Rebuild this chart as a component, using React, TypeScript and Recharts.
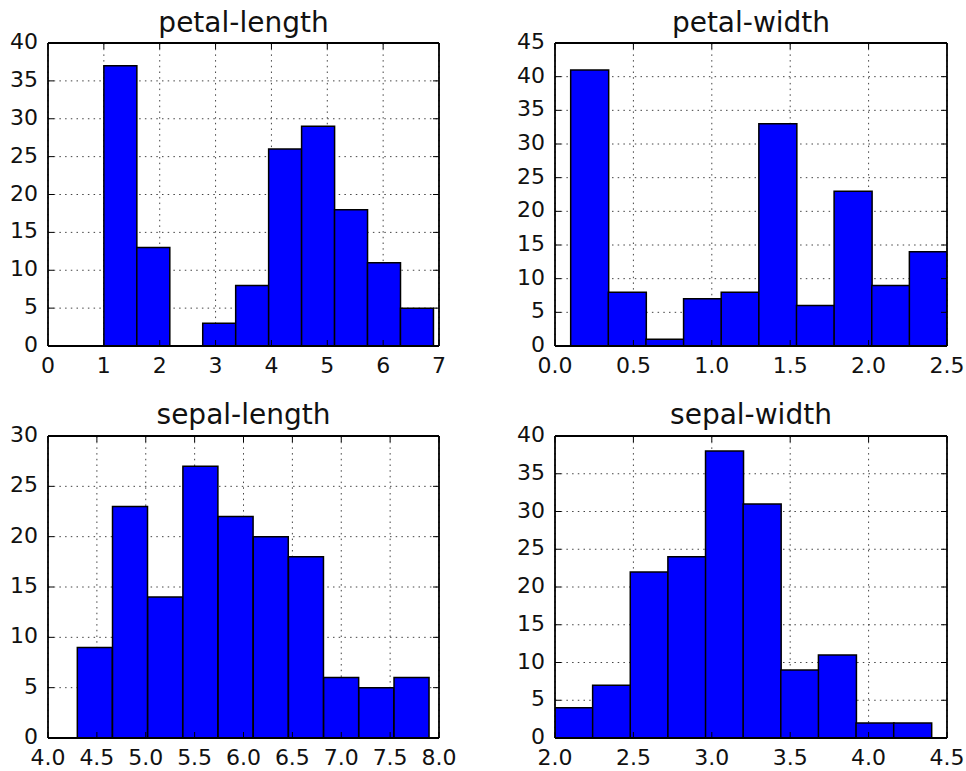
import React from 'react';
import { ComposedChart, Bar, XAxis, YAxis, CartesianGrid } from 'recharts';

// ---- data ----
const petalLengthEdges = [1.0, 1.59, 2.18, 2.77, 3.36, 3.95, 4.54, 5.13, 5.72, 6.31, 6.9];
const petalLengthCounts = [37, 13, 0, 3, 8, 26, 29, 18, 11, 5];
const petalLengthXTicks = [0, 1, 2, 3, 4, 5, 6, 7];
const petalLengthYTicks = [0, 5, 10, 15, 20, 25, 30, 35, 40];

const petalWidthEdges = [0.1, 0.34, 0.58, 0.82, 1.06, 1.3, 1.54, 1.78, 2.02, 2.26, 2.5];
const petalWidthCounts = [41, 8, 1, 7, 8, 33, 6, 23, 9, 14];
const petalWidthXTicks = [0.0, 0.5, 1.0, 1.5, 2.0, 2.5];
const petalWidthYTicks = [0, 5, 10, 15, 20, 25, 30, 35, 40, 45];

const sepalLengthEdges = [4.3, 4.66, 5.02, 5.38, 5.74, 6.1, 6.46, 6.82, 7.18, 7.54, 7.9];
const sepalLengthCounts = [9, 23, 14, 27, 22, 20, 18, 6, 5, 6];
const sepalLengthXTicks = [4.0, 4.5, 5.0, 5.5, 6.0, 6.5, 7.0, 7.5, 8.0];
const sepalLengthYTicks = [0, 5, 10, 15, 20, 25, 30];

const sepalWidthEdges = [2.0, 2.24, 2.48, 2.72, 2.96, 3.2, 3.44, 3.68, 3.92, 4.16, 4.4];
const sepalWidthCounts = [4, 7, 22, 24, 38, 31, 9, 11, 2, 2];
const sepalWidthXTicks = [2.0, 2.5, 3.0, 3.5, 4.0, 4.5];
const sepalWidthYTicks = [0, 5, 10, 15, 20, 25, 30, 35, 40];

const FONT = '"DejaVu Sans", sans-serif';
const TICK_FS = 22;
const TICK_LEN = 6;
const XAXIS_H = 30;
const YAXIS_W = 40;

function buildData(edges: number[], counts: number[]) {
  return counts.map((c, i) => ({ x: (edges[i] + edges[i + 1]) / 2, count: c }));
}

const BottomTick = (fmt: (v: number) => string) => (props: any) => {
  const { x, y, payload } = props;
  return (
    <g>
      <line x1={x} y1={y} x2={x} y2={y - TICK_LEN} stroke="#000" strokeWidth={1} />
      <text x={x} y={y + 27} textAnchor="middle" fontSize={TICK_FS} fontFamily={FONT} fill="#111">
        {fmt(payload.value)}
      </text>
    </g>
  );
};
const TopTick = (props: any) => {
  const { x, y } = props;
  return <line x1={x} y1={y} x2={x} y2={y + TICK_LEN} stroke="#000" strokeWidth={1} />;
};
const LeftTick = (props: any) => {
  const { x, y, payload } = props;
  return (
    <g>
      <line x1={x} y1={y} x2={x + TICK_LEN} y2={y} stroke="#000" strokeWidth={1} />
      <text x={x - 10} y={y + 6} textAnchor="end" fontSize={TICK_FS} fontFamily={FONT} fill="#111">
        {String(payload.value)}
      </text>
    </g>
  );
};
const RightTick = (props: any) => {
  const { x, y } = props;
  return <line x1={x} y1={y} x2={x - TICK_LEN} y2={y} stroke="#000" strokeWidth={1} />;
};

type PanelProps = {
  left: number; top: number; width: number; height: number;
  pl: number; pt: number; pr: number; pb: number;
  title: string; titleTop: number;
  edges: number[]; counts: number[];
  xTicks: number[]; yTicks: number[];
  fmt: (v: number) => string;
};

function Panel(p: PanelProps) {
  const data = buildData(p.edges, p.counts);
  const xDomain = [p.xTicks[0], p.xTicks[p.xTicks.length - 1]];
  const yDomain = [p.yTicks[0], p.yTicks[p.yTicks.length - 1]];
  const axisLine = { stroke: '#000', strokeWidth: 1.8 };
  return (
    <div style={{ position: 'absolute', left: p.left, top: p.top, width: p.width, height: p.height }}>
      <div
        style={{
          position: 'absolute', left: p.pl, top: p.titleTop, width: p.width - p.pl - p.pr,
          textAlign: 'center', fontFamily: FONT, fontSize: 28, lineHeight: '32px', color: '#111', whiteSpace: 'nowrap',
        }}
      >
        {p.title}
      </div>
      <ComposedChart
        width={p.width}
        height={p.height}
        data={data}
        margin={{ left: p.pl - YAXIS_W, top: p.pt - 1, right: p.pr - 1, bottom: p.pb - XAXIS_H }}
        barCategoryGap={0}
        barGap={0}
        style={{ overflow: 'visible' }}
      >
        <CartesianGrid stroke="#444" strokeWidth={1} strokeDasharray="1.5 4.2" />
        <Bar dataKey="count" fill="#0000ff" stroke="#000" strokeWidth={1.5} isAnimationActive={false} />
        <XAxis
          dataKey="x" type="number" domain={xDomain} ticks={p.xTicks} allowDataOverflow
          height={XAXIS_H} tickSize={0} tickMargin={0} tickLine={false}
          axisLine={axisLine} tick={BottomTick(p.fmt)} interval={0}
        />
        <XAxis
          xAxisId="top" orientation="top" dataKey="x" type="number" domain={xDomain} ticks={p.xTicks} allowDataOverflow
          height={1} tickSize={0} tickMargin={0} tickLine={false}
          axisLine={axisLine} tick={TopTick} interval={0}
        />
        <YAxis
          type="number" domain={yDomain} ticks={p.yTicks} allowDataOverflow
          width={YAXIS_W} tickSize={0} tickMargin={0} tickLine={false}
          axisLine={axisLine} tick={LeftTick} interval={0}
        />
        <YAxis
          yAxisId="right" orientation="right" type="number" domain={yDomain} ticks={p.yTicks} allowDataOverflow
          width={1} tickSize={0} tickMargin={0} tickLine={false}
          axisLine={axisLine} tick={RightTick} interval={0}
        />
      </ComposedChart>
    </div>
  );
}

const fmtInt = (v: number) => String(v);
const fmt1 = (v: number) => v.toFixed(1);

export default function App() {
  return (
    <div style={{ position: 'absolute', left: 0, top: 0, width: 966, height: 771, background: '#fff' }}>
      <Panel left={0} top={0} width={480} height={390} pl={48} pt={43} pr={41} pb={44}
        title="petal-length" titleTop={7} edges={petalLengthEdges} counts={petalLengthCounts}
        xTicks={petalLengthXTicks} yTicks={petalLengthYTicks} fmt={fmtInt} />
      <Panel left={480} top={0} width={486} height={390} pl={75} pt={43} pr={19} pb={44}
        title="petal-width" titleTop={7} edges={petalWidthEdges} counts={petalWidthCounts}
        xTicks={petalWidthXTicks} yTicks={petalWidthYTicks} fmt={fmt1} />
      <Panel left={0} top={390} width={480} height={381} pl={48} pt={46} pr={41} pb={33}
        title="sepal-length" titleTop={9} edges={sepalLengthEdges} counts={sepalLengthCounts}
        xTicks={sepalLengthXTicks} yTicks={sepalLengthYTicks} fmt={fmt1} />
      <Panel left={480} top={390} width={486} height={381} pl={75} pt={46} pr={19} pb={33}
        title="sepal-width" titleTop={9} edges={sepalWidthEdges} counts={sepalWidthCounts}
        xTicks={sepalWidthXTicks} yTicks={sepalWidthYTicks} fmt={fmt1} />
    </div>
  );
}
